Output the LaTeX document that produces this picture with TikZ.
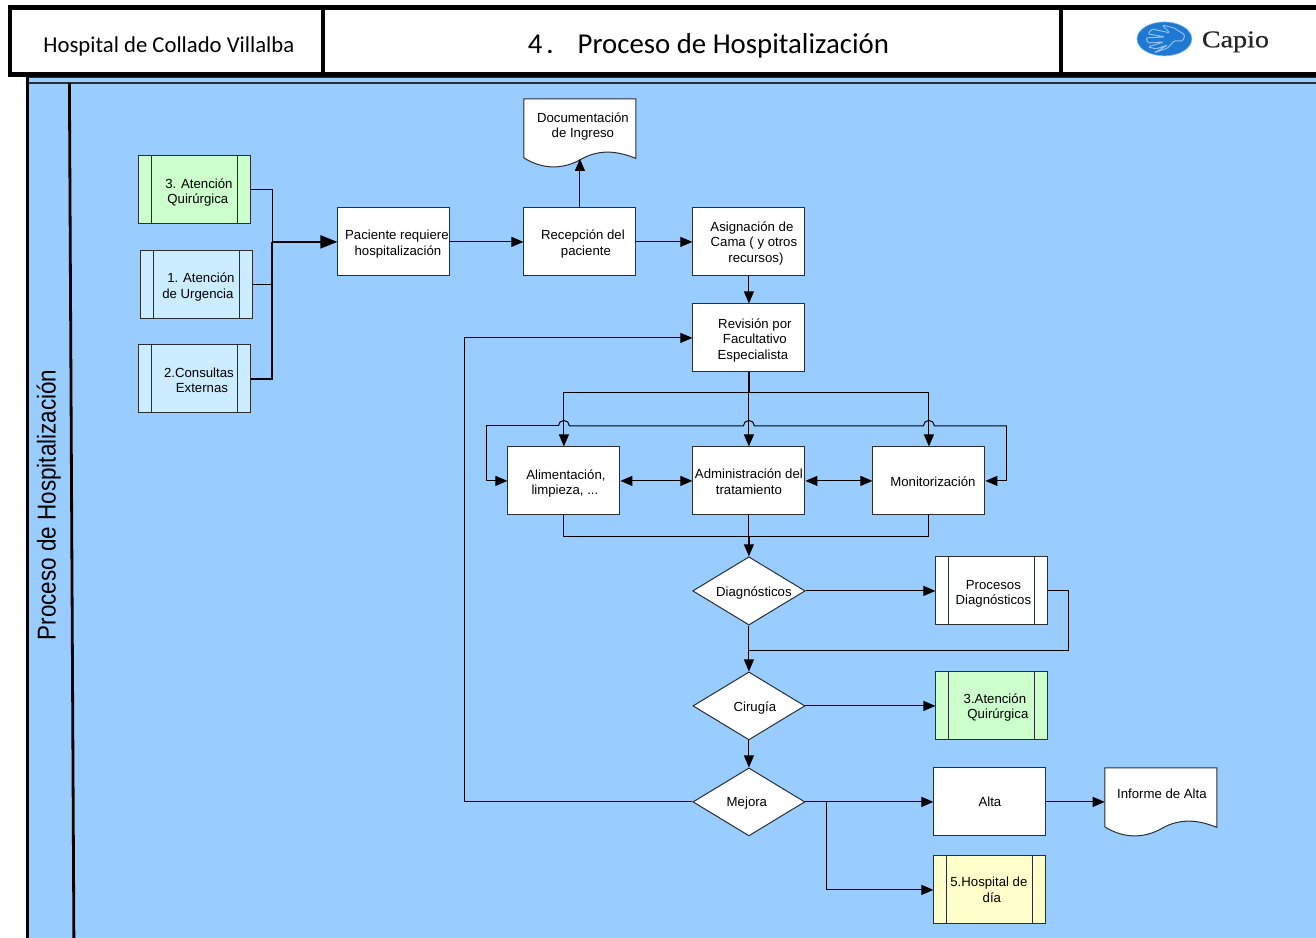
\documentclass[tikz,border=0pt]{standalone}
\usepackage{fontspec}
\setmainfont{Liberation Sans}
\newfontfamily\hdrfont{Carlito}
\newfontfamily\logofont[FakeBold=0.6]{Liberation Serif}
\usetikzlibrary{shapes.geometric,arrows.meta,calc}
\definecolor{lanecol}{HTML}{99CCFF}
\definecolor{greenbox}{HTML}{CCFFCC}
\definecolor{bluebox}{HTML}{CCECFF}
\definecolor{yellowbox}{HTML}{FFFFCC}
\definecolor{edgecol}{HTML}{2A2F33}
\definecolor{logoblue}{HTML}{1F78D1}
\definecolor{logoline}{HTML}{8FC3EE}
\newcommand{\ofs}[1]{\hspace*{#1pt}}
% first line of a node: horizontal offset, and a taller strut that moves the text down
\newcommand{\fst}[2]{\rule{0pt}{\dimexpr 9.6pt+#2pt*2\relax}\hspace*{#1pt}}
\tikzset{
  flowtext/.style={font=\fontsize{13.2}{15.5}\selectfont,text=black,align=center,inner sep=0pt},
  procbox/.style={flowtext,rectangle,draw=edgecol,line width=1pt,fill=white,minimum width=112pt,minimum height=68pt},
  subproc/.style={procbox,fill=#1,path picture={
      \draw[edgecol,line width=1pt] ($(path picture bounding box.north west)+(13pt,0)$) -- ($(path picture bounding box.south west)+(13pt,0)$);
      \draw[edgecol,line width=1pt] ($(path picture bounding box.north east)+(-13pt,0)$) -- ($(path picture bounding box.south east)+(-13pt,0)$);}},
  decision/.style={flowtext,diamond,aspect=1.647,draw=edgecol,line width=1pt,fill=white,minimum width=112pt,minimum height=68pt},
  docbox/.style={flowtext,rectangle,minimum width=112pt,minimum height=68pt},
  docedge/.style={draw=edgecol,fill=white,line width=1pt},
  headcell/.style={rectangle,draw=black,line width=4.5pt,fill=white,font=\hdrfont,inner sep=0pt},
  conn/.style={draw=black,line width=1pt},
  arr/.style={conn,-{Triangle[length=12pt,width=10pt]}},
  darr/.style={conn,{Triangle[length=12pt,width=10pt]}-{Triangle[length=12pt,width=10pt]}},
  bigarr/.style={draw=black,line width=2pt,-{Triangle[length=17pt,width=13pt]}},
}
\begin{document}
\begin{tikzpicture}[x=1pt,y=-1pt]
\clip (0.1,0.1) rectangle (1316.1,937.1);
% lane
\fill[lanecol] (27,77) rectangle (1320,940);
\draw[edgecol,line width=0.8pt] (27,77.5) -- (1320,77.5);
\draw[edgecol,line width=1.4pt] (27,83) -- (1320,83);
\draw[black,line width=3pt] (27.5,77) -- (27.5,940);
\draw[black,line width=2.8pt] (69.5,83) -- (74,940);
\node[rotate=90,xscale=.87,font=\fontsize{25.8}{28}\selectfont,inner sep=0pt] (lanetitle) at (49,505) {Proceso de Hospitalización};
% header
\node[headcell,minimum width=313pt,minimum height=67pt] (hcell) at (166.5,41) {};
\node[headcell,minimum width=738pt,minimum height=67pt] (tcell) at (692,41) {};
\node[headcell,minimum width=270pt,minimum height=67pt] (lcell) at (1196,41) {};
\node[font=\hdrfont\fontsize{22.7}{25}\selectfont,inner sep=0pt] (htext) at (169,47) {Hospital de Collado Villalba};
\node[font=\hdrfont\fontsize{28.8}{32}\selectfont,inner sep=0pt] (ttext) at (708.5,46) {4\hspace{4pt}.\hspace{24pt}Proceso de Hospitalización};
% logo
\node[ellipse,fill=logoblue,draw=logoline,line width=0.6pt,minimum width=55pt,minimum height=34pt,inner sep=0pt] (logomark) at (1164.5,39) {};
\draw[logoline,line width=1pt,line join=round,rounded corners=1.5pt]
  (1162,25) -- (1174,28) -- (1185,35) -- (1183,41) -- (1174,41) -- (1168,48) -- (1154,53)
  -- (1168,45) -- (1156,49) -- (1148,47) -- (1164,42) -- (1148,43) -- (1146,38)
  -- (1165,37) -- (1148,34) -- (1152,29) -- (1170,33) -- cycle;
\node[xscale=1.17,font=\logofont\fontsize{24}{27}\selectfont,text=black!85,inner sep=0pt] (logotext) at (1235.5,42) {Capio};
% left subprocess boxes
\node[subproc=greenbox] (atq) at (195,190) {\fst{8}{2.5}3. Atención\\\ofs{6}Quirúrgica};
\node[subproc=bluebox] (urg) at (197,285) {\fst{8}{2}1. Atención\\\ofs{2}de Urgencia};
\node[subproc=bluebox] (con) at (195,379) {\fst{8}{1.5}2.Consultas\\\ofs{14}Externas};
% process boxes
\node[procbox] (pac) at (394,242) {\fst{6}{2}Paciente requiere\\\ofs{8}hospitalización};
\node[procbox] (rec) at (580,242) {\fst{6}{2}Recepción del\\\ofs{12}paciente};
\node[procbox] (asi) at (749,242) {\fst{6}{1.5}Asignación de\\\ofs{10}Cama ( y otros\\\ofs{14}recursos)};
\node[procbox] (rev) at (749,338) {\fst{12}{2.3}Revisión por\\\ofs{12}Facultativo\\\ofs{8}Especialista};
\node[procbox] (ali) at (564,481) {\fst{4}{2.5}Alimentación,\\\ofs{2}limpieza, ...};
\node[procbox] (adm) at (749,481) {\fst{0}{1}Administración del\\tratamiento};
\node[procbox] (mon) at (929,481) {\fst{8}{1}Monitorización};
\node[procbox] (alta) at (990,802) {Alta};
% documents
\coordinate (docc) at (580,133);
\draw[docedge] (524,99) -- (636,99) -- (636,158.5) .. controls (622,153) and (602,147) .. (580,160)
  .. controls (560,171) and (540,168) .. (524,158) -- cycle;
\node[docbox] (doc) at (docc) {\ofs{6}Documentación\\\ofs{6}de Ingreso\\\mbox{}};
\coordinate (infc) at (1161,802);
\draw[docedge] (1105,768) -- (1217,768) -- (1217,827.5) .. controls (1203,822) and (1183,816) .. (1161,829)
  .. controls (1141,840) and (1121,837) .. (1105,827) -- cycle;
\node[docbox] (inf) at (infc) {\ofs{2}Informe de Alta\\\mbox{}};
% decisions
\node[decision] (dia) at (749,591) {\fst{10}{2}Diagnósticos};
\node[decision] (cir) at (749,706) {\fst{12}{2}Cirugía};
\node[decision] (mej) at (749,802) {\fst{-4}{1}Mejora};
% right subprocess boxes
\node[subproc=white] (pro) at (992,591) {\fst{3}{2.5}Procesos\\\ofs{3}Diagnósticos};
\node[subproc=greenbox] (atq2) at (992,706) {\fst{6}{1.5}3.Atención\\\ofs{12}Quirúrgica};
\node[subproc=yellowbox] (hos) at (990,890) {\ofs{-2}5.Hospital de\\\ofs{4}día};
% junction coordinates
\coordinate (jn) at (272.5,242);
\coordinate (jr) at (749,393);
\coordinate (fbl) at (487,426);
\coordinate (fbr) at (1007,426);
\coordinate (jm) at (749,537);
\coordinate (jd) at (1069,651);
\coordinate (jdm) at (749,651);
\coordinate (jl) at (465,802);
\coordinate (jh) at (827,802);
% connectors: left inputs
\draw[conn] (atq.east |- 0,190) -| (jn);
\draw[conn] (urg.east) -- (urg.east -| jn);
\draw[draw=black,line width=2pt] (con.east) -| (jn);
\draw[bigarr] (jn) -- (pac.west);
% main row
\draw[arr] (pac.east) -- (rec.west);
\draw[arr] (rec.east) -- (asi.west);
\draw[arr] (rec.north) -- (doc.center |- 0,159);
\draw[arr] (asi.south) -- (rev.north);
\draw[arr] (rev.south) -- (adm.north);
\draw[draw=black,line width=2pt] (rev.south) -- (jr);
\draw[arr] (jr) -| (ali.north);
\draw[arr] (jr) -| (mon.north);
% feedback line with jumps
\draw[arr] (fbl -| ali.north) ++(-5.5pt,0) -- (fbl) |- (ali.west);
\draw[conn] (fbl -| ali.north) ++(-5.5pt,0) arc[start angle=180,end angle=0,radius=5.5pt]
  -- ($(fbl -| adm.north)+(-5.5pt,0)$) arc[start angle=180,end angle=0,radius=5.5pt]
  -- ($(fbl -| mon.north)+(-5.5pt,0)$) arc[start angle=180,end angle=0,radius=5.5pt]
  -- (fbr);
\draw[arr] (fbr) |- (mon.east);
\draw[darr] (ali.east) -- (adm.west);
\draw[darr] (adm.east) -- (mon.west);
% merge
\draw[conn] (ali.south) |- (jm) -| (mon.south);
\draw[arr] (adm.south) -- (dia.north);
\draw[draw=black,line width=2pt] (jm) -- ++(0,10);
% diagnostics
\draw[arr] (dia.east) -- (pro.west);
\draw[conn] (pro.east) -| (jd) -- (jdm);
\draw[arr] (dia.south) -- (cir.north);
\draw[arr] (cir.east) -- (atq2.west);
\draw[arr] (cir.south) -- (mej.north);
\draw[arr] (mej.west) -- (jl) |- (rev.west);
\draw[arr] (mej.east) -- (alta.west);
\draw[arr] (alta.east) -- (inf.west);
\draw[arr] (jh) |- (hos.west);
\end{tikzpicture}
\end{document}
